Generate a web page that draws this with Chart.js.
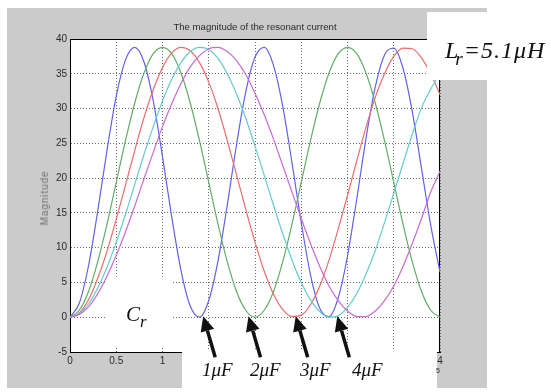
<!DOCTYPE html>
<html>
<head>
<meta charset="utf-8">
<script src="https://cdn.jsdelivr.net/npm/chart.js@4.4.1/dist/chart.umd.min.js"></script>
<style>
  html, body { margin: 0; padding: 0; background: #fff; }
  #wrap { position: relative; width: 551px; height: 392px; overflow: hidden; }
  #panel { position: absolute; left: 7px; top: 8px; width: 480px; height: 380px; background: #cbcbcb; }
  #chart { position: absolute; left: 0; top: 0; }
  .txt { position: absolute; white-space: nowrap; }
  .sans { font-family: "Liberation Sans", Arial, sans-serif; color: #2a2a2a; line-height: 1; font-weight: normal; }
  .serif { font-family: "Liberation Serif", "Times New Roman", serif; font-style: italic; color: #111; line-height: 1; }
  .serif sub { font-size: 0.8em; vertical-align: -0.35em; line-height: 0; }
</style>
</head>
<body>
<div id="wrap">
  <div id="panel"></div>
  <canvas id="chart" width="551" height="392"></canvas>
  <div class="txt sans" style="left:70px; width:370px; text-align:center; top:22px; font-size:9.6px;">The magnitude of the resonant current</div>
  <div class="txt sans" style="left:45px; top:198px; font-size:10px; letter-spacing:0.9px; color:#707070; transform:translate(-50%,-50%) rotate(-90deg);">Magnitude</div>
  <div class="txt serif" style="left:126px; top:304px; font-size:21px;">C<sub>r</sub></div>
  <div class="txt serif" style="left:445px; top:38px; font-size:24px; letter-spacing:1px;">L<sub style="margin-left:-4px">r</sub>=5.1μH</div>
  <div class="txt serif" style="left:202px; top:360px; font-size:19px;">1μF</div>
  <div class="txt serif" style="left:250px; top:360px; font-size:19px;">2μF</div>
  <div class="txt serif" style="left:300px; top:360px; font-size:19px;">3μF</div>
  <div class="txt serif" style="left:352px; top:360px; font-size:19px;">4μF</div>
  <div class="txt sans" style="left:436px; top:367px; font-size:7px;">5</div>
</div>
<script>
// time axis (x 10^-5 s)
const timeValues = [0, 0.1, 0.2, 0.3, 0.4, 0.5, 0.6, 0.7, 0.8, 0.9,
    1.0, 1.1, 1.2, 1.3, 1.4, 1.5, 1.6, 1.7, 1.8, 1.9,
    2.0, 2.1, 2.2, 2.3, 2.4, 2.5, 2.6, 2.7, 2.8, 2.9,
    3.0, 3.1, 3.2, 3.3, 3.4, 3.5, 3.6, 3.7, 3.8, 3.9, 4.0];

// magnitude of the resonant current for each Cr
const cr1 = [0, 2.0, 7.4, 15.3, 24.0, 31.8, 37.0, 38.8, 36.7, 31.1,
    23.1, 14.4, 6.7, 1.6, 0.0, 2.4, 8.1, 16.1, 24.8, 32.4,
    37.4, 38.8, 36.2, 30.3, 22.2, 13.6, 6.1, 1.3, 0.1, 2.8,
    8.8, 17.0, 25.7, 33.1, 37.7, 38.7, 35.8, 29.6, 21.4, 13.2, 6.5];
const cr2 = [0, 1.0, 3.7, 8.0, 13.4, 19.4, 25.4, 30.8, 35.1, 37.9,
    38.8, 37.9, 35.1, 30.8, 25.4, 19.4, 13.4, 8.0, 3.7, 1.0,
    0.0, 1.0, 3.7, 8.0, 13.4, 19.4, 25.4, 30.8, 35.1, 37.9,
    38.8, 37.9, 35.1, 30.8, 25.4, 19.4, 13.4, 8.0, 3.7, 1.0, 0.0];
const cr3 = [0, 0.6, 2.5, 5.6, 9.5, 14.1, 19.0, 24.0, 28.7, 32.7,
    35.9, 38.0, 38.8, 38.3, 36.6, 33.8, 30.0, 25.4, 20.5, 15.5,
    10.8, 6.6, 3.3, 1.1, 0.1, 0.3, 1.8, 4.5, 8.2, 12.7,
    17.5, 22.5, 27.3, 31.6, 35.0, 37.5, 38.7, 38.6, 37.3, 35.0, 32.0];
const cr4 = [0, 0.5, 1.9, 4.2, 7.2, 10.8, 14.8, 19.1, 23.4, 27.4,
    31.1, 34.2, 36.6, 38.2, 38.8, 38.5, 37.2, 35.0, 32.1, 28.6,
    24.6, 20.4, 16.1, 12.0, 8.2, 5.0, 2.5, 0.8, 0.0, 0.2,
    1.4, 3.4, 6.2, 9.6, 13.6, 17.8, 22.1, 26.3, 30.1, 32.8, 35.0];
const cr5 = [0, 0.4, 1.5, 3.4, 5.9, 8.9, 12.3, 16.0, 19.9, 23.7,
    27.4, 30.7, 33.6, 36.0, 37.6, 38.6, 38.8, 38.2, 36.9, 34.9,
    32.2, 29.1, 25.6, 21.8, 18.0, 14.2, 10.6, 7.3, 4.5, 2.4,
    0.9, 0.1, 0.1, 0.9, 2.4, 4.5, 7.3, 10.6, 14.2, 18.0, 21.0];

const seriesList = [cr1, cr2, cr3, cr4, cr5];
const seriesNames = ["1uF", "2uF", "3uF", "4uF", "5uF"];
const seriesColors = ["#6262e6", "#62ae66", "#ea6c6c", "#62cccc", "#c86cd2"];

// arrows under the 1uF..4uF labels point at these minima
const arrowTips = [1.44, 1.93, 2.44, 2.89];

// white patches pasted over the figure
const patches = {
    crBox: [105, 277, 67, 69],
    lrBox: [427, 12, 124, 68],
    bottomBox: [182, 351, 255, 39],
};

const toPoints = (values) => timeValues.map((t, i) => ({ x: t, y: values[i] }));

const figurePlugin = {
    id: "figure",
    beforeDraw(chart) {
        const { ctx, chartArea: a } = chart;
        ctx.save();
        ctx.fillStyle = "#fff";
        ctx.fillRect(a.left, a.top, a.right - a.left, a.bottom - a.top);
        ctx.restore();
    },
    beforeDatasetsDraw(chart) {
        const { ctx, chartArea: a } = chart;
        ctx.save();
        ctx.strokeStyle = "#000";
        ctx.lineWidth = 1;
        ctx.strokeRect(Math.round(a.left) + 0.5, Math.round(a.top) + 0.5,
            Math.round(a.right - a.left) - 1, Math.round(a.bottom - a.top));
        const [x, y, w, h] = patches.crBox;
        ctx.fillStyle = "#fff";
        ctx.fillRect(x, y, w, h);
        ctx.restore();
    },
    afterDraw(chart) {
        const { ctx } = chart;
        ctx.save();
        ctx.fillStyle = "#fff";
        [patches.lrBox, patches.bottomBox].forEach(([x, y, w, h]) => ctx.fillRect(x, y, w, h));

        // arrows
        const xs = chart.scales.x, ys = chart.scales.y;
        ctx.strokeStyle = "#111";
        ctx.fillStyle = "#111";
        ctx.lineWidth = 3.5;
        arrowTips.forEach((t) => {
            const tx = xs.getPixelForValue(t);
            const ty = ys.getPixelForValue(0) - 1;
            const sx = tx + 12, sy = ty + 41;
            const ang = Math.atan2(ty - sy, tx - sx);
            const len = 15, half = 7;
            const bx = tx - len * Math.cos(ang), by = ty - len * Math.sin(ang);
            ctx.beginPath();
            ctx.moveTo(sx, sy);
            ctx.lineTo(bx, by);
            ctx.stroke();
            ctx.beginPath();
            ctx.moveTo(tx, ty);
            ctx.lineTo(bx + half * Math.sin(ang), by - half * Math.cos(ang));
            ctx.lineTo(bx - half * Math.sin(ang), by + half * Math.cos(ang));
            ctx.closePath();
            ctx.fill();
        });
        ctx.restore();
    },
};

const tickFont = { family: "'Liberation Sans', Arial, sans-serif", size: 10 };
const gridStyle = { color: "rgba(70,70,70,0.8)", lineWidth: 1, drawTicks: false };

new Chart(document.getElementById("chart"), {
    type: "line",
    data: {
        datasets: seriesList.map((values, i) => ({
            label: seriesNames[i],
            data: toPoints(values),
            borderColor: seriesColors[i],
            borderWidth: 1.2,
            pointRadius: 0,
            fill: false,
            cubicInterpolationMode: "monotone",
            order: seriesList.length - i,
        })),
    },
    options: {
        responsive: false,
        animation: false,
        devicePixelRatio: 1,
        layout: { padding: { left: 0, top: 39, right: 111, bottom: 0 } },
        plugins: { legend: { display: false }, tooltip: { enabled: false }, title: { display: false } },
        scales: {
            x: {
                type: "linear",
                min: 0,
                max: 4,
                grid: gridStyle,
                border: { display: true, color: "#000", width: 1, dash: [1, 2] },
                ticks: {
                    stepSize: 0.5, autoSkip: false, maxRotation: 0, padding: 3,
                    color: "#2a2a2a", font: tickFont,
                    callback: (value) => String(value),
                },
                afterFit: (scale) => { scale.height = 40; },
            },
            y: {
                min: -5,
                max: 40,
                grid: gridStyle,
                border: { display: true, color: "#000", width: 1, dash: [1, 2] },
                ticks: { stepSize: 5, padding: 3, color: "#2a2a2a", font: tickFont },
                afterFit: (scale) => { scale.width = 70; },
            },
        },
    },
    plugins: [figurePlugin],
});
</script>
</body>
</html>
